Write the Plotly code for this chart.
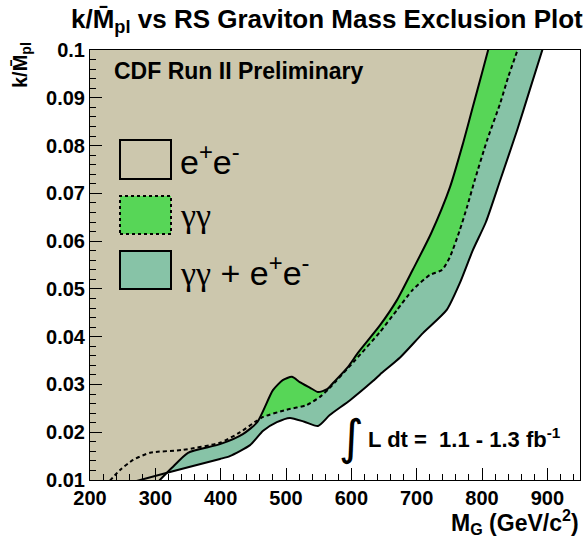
import plotly.graph_objects as go

# ---- data ----
ee_mass = [304, 325, 350, 399, 434, 456, 480, 495, 509, 521, 537, 549, 563, 572, 595, 610,
           644, 670, 694, 722, 751, 771, 786, 800, 810]
ee_k = [0.0096, 0.0125, 0.0157, 0.0175, 0.0196, 0.0221, 0.0288, 0.0309, 0.0316, 0.0305, 0.0293,
        0.0284, 0.0290, 0.0303, 0.0337, 0.0366, 0.0424, 0.0477, 0.0540, 0.0616, 0.0713, 0.0805,
        0.0881, 0.0952, 0.1003]

gg_mass = [230, 246, 266, 292, 342, 399, 430, 452, 465, 501, 532, 552, 567, 606, 644, 670,
           694, 720, 739, 751, 766, 777, 789, 808, 828, 840, 855]
gg_k = [0.0098, 0.0121, 0.0142, 0.0157, 0.0163, 0.0178, 0.0200, 0.0221, 0.0232, 0.0247, 0.0257,
        0.0274, 0.0293, 0.0351, 0.0410, 0.0456, 0.0498, 0.0529, 0.0540, 0.0567, 0.0623, 0.0671,
        0.0728, 0.0812, 0.0889, 0.0943, 0.1002]

cb_mass = [266, 318, 399, 414, 445, 465, 486, 506, 528, 549, 567, 598, 633, 644, 675, 710,
           746, 766, 786, 806, 828, 854, 873, 893]
cb_k = [0.0096, 0.0115, 0.0144, 0.0150, 0.0173, 0.0203, 0.0221, 0.0230, 0.0222, 0.0213, 0.0236,
        0.0267, 0.0307, 0.0321, 0.0357, 0.0408, 0.0456, 0.0512, 0.0581, 0.0640, 0.0728, 0.0833,
        0.0916, 0.1003]

x_ticks = [200, 300, 400, 500, 600, 700, 800, 900]
y_ticks = [0.01, 0.02, 0.03, 0.04, 0.05, 0.06, 0.07, 0.08, 0.09, 0.1]
y_ticktext = ["0.01", "0.02", "0.03", "0.04", "0.05", "0.06", "0.07", "0.08", "0.09", "0.1"]

TAN = "#CCC7AD"
GREEN = "#57D657"
TEAL = "#87C3A7"
FONT = "Liberation Sans, Arial, sans-serif"
SMOOTH = 0.6

fig = go.Figure()
# excluded regions: everything to the left of each limit curve
for (m, k, col) in [(cb_mass, cb_k, TEAL), (gg_mass, gg_k, GREEN), (ee_mass, ee_k, TAN)]:
    fig.add_trace(go.Scatter(x=m, y=k, fill="tozerox", fillcolor=col, mode="lines",
                             line=dict(width=0, shape="spline", smoothing=SMOOTH),
                             hoverinfo="skip", showlegend=False))

fig.add_trace(go.Scatter(x=ee_mass, y=ee_k, mode="lines",
                         line=dict(color="black", width=2, shape="spline", smoothing=SMOOTH),
                         showlegend=False))
fig.add_trace(go.Scatter(x=gg_mass, y=gg_k, mode="lines",
                         line=dict(color="black", width=2, dash="4px,3px", shape="spline",
                                   smoothing=SMOOTH), showlegend=False))
fig.add_trace(go.Scatter(x=cb_mass, y=cb_k, mode="lines",
                         line=dict(color="black", width=2, shape="spline", smoothing=SMOOTH),
                         showlegend=False))

L, R, T, B = 90, 3, 50, 60
W, H = 583, 540
PW, PH = W - L - R, H - T - B


def px(x):
    return (x - L) / PW


def py(y):
    return (H - B - y) / PH


GAMMA = "<span style='font-family:Liberation Serif'>γγ</span>"
shapes = []
annotations = []
legend_items = [
    (140, 179, TAN, "solid", "e<sup>+</sup>e<sup>-</sup>"),
    (196, 234, GREEN, "dot", GAMMA),
    (251, 289, TEAL, "solid", GAMMA + " + e<sup>+</sup>e<sup>-</sup>"),
]
for (top, bot, col, dash, label) in legend_items:
    shapes.append(dict(type="rect", xref="paper", yref="paper", x0=px(120), x1=px(171),
                       y0=py(bot), y1=py(top), fillcolor=col,
                       line=dict(color="black", width=2, dash=dash)))
    annotations.append(dict(xref="paper", yref="paper", x=px(178), y=py((top + bot) / 2),
                            xanchor="left", yanchor="middle", showarrow=False, text=label,
                            font=dict(family=FONT, size=34, color="black")))

annotations += [
    dict(xref="paper", yref="paper", x=px(327), y=py(2), xanchor="center", yanchor="top",
         showarrow=False, text="k/M̄<sub>pl</sub> vs RS Graviton Mass Exclusion Plot",
         font=dict(family=FONT, size=26, color="black", weight="bold")),
    dict(xref="paper", yref="paper", x=px(112), y=py(71), xanchor="left", yanchor="middle",
         showarrow=False, text="CDF Run II Preliminary",
         font=dict(family=FONT, size=23, color="black", weight="bold")),
    dict(xref="paper", yref="paper", x=px(351), y=py(437), xanchor="center", yanchor="middle",
         showarrow=False, text="∫", font=dict(family="DejaVu Sans", size=48, color="black")),
    dict(xref="paper", yref="paper", x=px(366), y=py(438), xanchor="left", yanchor="middle",
         showarrow=False, text="L dt =  1.1 - 1.3 fb<sup>-1</sup>",
         font=dict(family=FONT, size=22, color="black", weight="bold")),
    dict(xref="paper", yref="paper", x=px(581), y=py(522), xanchor="right", yanchor="middle",
         showarrow=False, text="M<sub>G</sub> (GeV/c<sup>2</sup>)",
         font=dict(family=FONT, size=23, color="black", weight="bold")),
    dict(xref="paper", yref="paper", x=px(22), y=py(40), xanchor="center", yanchor="top",
         textangle=-90, showarrow=False, text="k/M̄<sub>pl</sub>",
         font=dict(family=FONT, size=20, color="black", weight="bold")),
]

tickfont = dict(family=FONT, size=20, color="black", weight="bold")
fig.update_layout(
    width=W, height=H,
    margin=dict(l=L, r=R, t=T, b=B, pad=0),
    paper_bgcolor="white", plot_bgcolor="white",
    shapes=shapes, annotations=annotations,
    showlegend=False,
    xaxis=dict(range=[200, 950], tickvals=x_ticks, ticktext=[str(v) for v in x_ticks],
               ticks="inside", ticklen=12, tickwidth=1, tickcolor="black",
               minor=dict(ticks="inside", dtick=20, tick0=200, ticklen=6, tickcolor="black"),
               showgrid=False, zeroline=False, showline=True, linecolor="black", linewidth=1,
               mirror=True, tickfont=tickfont),
    yaxis=dict(range=[0.01, 0.1], tickvals=y_ticks, ticktext=y_ticktext,
               ticks="inside", ticklen=12, tickwidth=1, tickcolor="black",
               minor=dict(ticks="inside", dtick=0.002, tick0=0.01, ticklen=6, tickcolor="black"),
               showgrid=False, zeroline=False, showline=True, linecolor="black", linewidth=1,
               mirror=True, tickfont=tickfont),
)

fig.write_html("out.html")
